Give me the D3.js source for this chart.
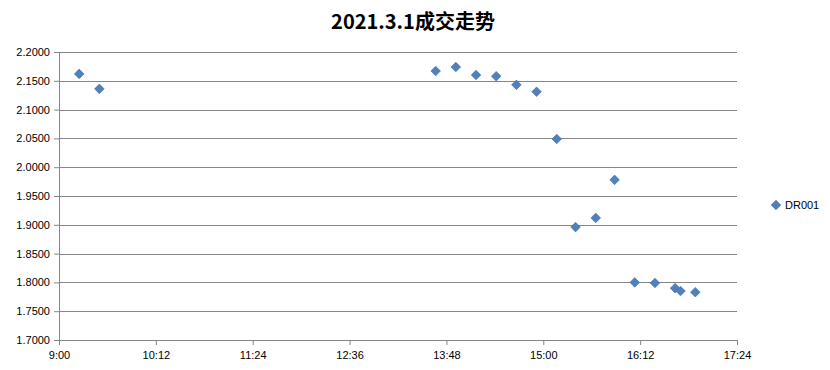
<!DOCTYPE html>
<html>
<head>
<meta charset="utf-8">
<script src="https://cdn.jsdelivr.net/npm/d3@7"></script>
<style>
  body { margin: 0; background: #fff; }
  svg { display: block; }
  .tick text { font-family: "Liberation Sans", Arial, sans-serif; font-size: 11px; fill: #000; }
</style>
</head>
<body>
<div id="chart"></div>
<script>
/* 2021.3.1 trade trend - scatter of DR001 */

var times = ['9:15', '9:30', '13:40', '13:55', '14:10', '14:25', '14:40', '14:55', '15:10',
             '15:24', '15:39', '15:53', '16:08', '16:23', '16:38', '16:42', '16:53'];
var rates = [2.162, 2.136, 2.167, 2.174, 2.160, 2.158, 2.143, 2.131, 2.049,
             1.896, 1.912, 1.978, 1.800, 1.799, 1.790, 1.785, 1.783];
var xTicks = ['9:00', '10:12', '11:24', '12:36', '13:48', '15:00', '16:12', '17:24'];
var yTicks = [1.70, 1.75, 1.80, 1.85, 1.90, 1.95, 2.00, 2.05, 2.10, 2.15, 2.20];
var seriesName = 'DR001';

var W = 830, H = 370,
    margin = { top: 52, right: 93, bottom: 30, left: 59 },
    width = W - margin.left - margin.right,
    height = H - margin.top - margin.bottom;

function toMin(s) {
  var p = s.split(':');
  return +p[0] * 60 + +p[1];
}

var svg = d3.select('#chart').append('svg')
    .attr('width', W)
    .attr('height', H);

var g = svg.append('g')
    .attr('transform', 'translate(' + margin.left + ',' + margin.top + ')');

var x = d3.scaleLinear()
    .domain([toMin(xTicks[0]), toMin(xTicks[xTicks.length - 1])])
    .range([0, width]);

var y = d3.scaleLinear()
    .domain([1.7, 2.2])
    .range([height, 0]);

// gridlines
g.append('g')
  .selectAll('line')
  .data(yTicks.slice(1))
  .enter().append('line')
    .attr('x1', 0)
    .attr('x2', width)
    .attr('y1', function(d) { return Math.round(y(d)) + 0.5; })
    .attr('y2', function(d) { return Math.round(y(d)) + 0.5; })
    .attr('stroke', '#868686')
    .attr('stroke-width', 1);

var yAxis = d3.axisLeft(y)
    .tickValues(yTicks)
    .tickSize(5)
    .tickPadding(4)
    .tickFormat(d3.format('.4f'));

var xAxis = d3.axisBottom(x)
    .tickValues(xTicks.map(toMin))
    .tickSize(5)
    .tickPadding(6)
    .tickFormat(function(d, i) { return xTicks[i]; });

var yG = g.append('g').call(yAxis);
var xG = g.append('g')
    .attr('transform', 'translate(0,' + height + ')')
    .call(xAxis);

[yG, xG].forEach(function(a) {
  a.selectAll('path, line').attr('stroke', '#868686');
});

// excel style diamond = square turned 45deg
var diamond = d3.symbol().type(d3.symbolSquare).size(46);

g.append('g')
  .selectAll('path')
  .data(rates)
  .enter().append('path')
    .attr('d', diamond)
    .attr('transform', function(d, i) {
      return 'translate(' + x(toMin(times[i])) + ',' + y(d) + ') rotate(45)';
    })
    .attr('fill', '#4f81bd')
    .attr('stroke', '#3f6fa8')
    .attr('stroke-width', 0.6);

// title
svg.append('text')
  .attr('x', 413)
  .attr('y', 29)
  .attr('text-anchor', 'middle')
  .attr('font-family', '"Noto Sans CJK SC", "Liberation Sans", sans-serif')
  .attr('font-weight', 'bold')
  .attr('font-size', 20)
  .text('2021.3.1成交走势');

// legend
var legend = svg.append('g')
  .attr('transform', 'translate(776,205)');

legend.append('path')
  .attr('d', diamond)
  .attr('transform', 'rotate(45)')
  .attr('fill', '#4f81bd')
  .attr('stroke', '#3f6fa8')
  .attr('stroke-width', 0.6);

legend.append('text')
  .attr('x', 9)
  .attr('y', 4)
  .attr('font-family', '"Liberation Sans", Arial, sans-serif')
  .attr('font-size', 11)
  .text(seriesName);
</script>
</body>
</html>
